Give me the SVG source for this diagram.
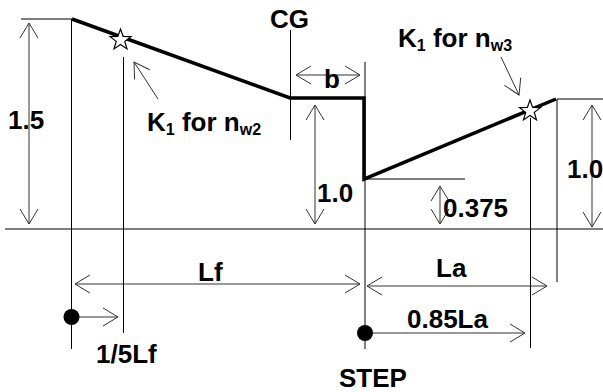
<svg xmlns="http://www.w3.org/2000/svg" width="603" height="392" viewBox="0 0 603 392">
<style>
.t{font-family:"Liberation Sans",Arial,sans-serif;font-weight:bold;font-size:26px;fill:#000}
.s{font-size:16px}
.thin{stroke:#000;stroke-width:1;fill:none}
.dim{stroke:#333;stroke-width:1;fill:none;marker-end:url(#ah)}
.dim2{stroke:#333;stroke-width:1;fill:none;marker-start:url(#ah);marker-end:url(#ah)}
.thick{stroke:#000;stroke-width:3.5;fill:none;stroke-linejoin:miter}
.star{fill:#fff;stroke:#000;stroke-width:1.2}
</style>
<defs>
<marker id="ah" markerUnits="userSpaceOnUse" markerWidth="20" markerHeight="20" refX="0" refY="0" orient="auto-start-reverse" viewBox="-16 -10 18 20" overflow="visible">
<path d="M-15,-9 L0,0 L-15,9" fill="none" stroke="#333" stroke-width="1"/>
</marker>
<polygon id="star" points="0,-11 2.65,-3.64 10.46,-3.4 4.28,1.39 6.47,8.9 0,4.5 -6.47,8.9 -4.28,1.39 -10.46,-3.4 -2.65,-3.64"/>
</defs>

<g id="reference-lines">
<line class="thin" x1="5" y1="229" x2="603" y2="229"/>
<line class="thin" x1="21" y1="19" x2="72" y2="19"/>
<line class="thin" x1="71.5" y1="19" x2="71.5" y2="349"/>
<line class="thin" x1="123.5" y1="57" x2="123.5" y2="333"/>
<line class="thin" x1="290.5" y1="30" x2="290.5" y2="140"/>
<line class="thin" x1="365" y1="62" x2="365" y2="349"/>
<line class="thin" x1="365" y1="179" x2="465" y2="179"/>
<line class="thin" x1="530.5" y1="118" x2="530.5" y2="348"/>
<line class="thin" x1="557" y1="99" x2="603" y2="99"/>
<line class="thin" x1="557" y1="99" x2="557" y2="282"/>
</g>

<g id="profile">
<polyline class="thick" points="72,19 290,98 364,98 364,179 556,99"/>
<use href="#star" class="star" x="120.5" y="40"/>
<use href="#star" class="star" x="530" y="111"/>
</g>

<g id="connectors">
<line class="dim2" x1="29" y1="23" x2="29" y2="224"/>
<line class="dim" x1="158" y1="99" x2="134" y2="62"/>
<line class="dim" x1="501" y1="57" x2="519" y2="95"/>
<line class="dim2" x1="296" y1="75" x2="360" y2="75"/>
<line class="dim2" x1="315" y1="105" x2="315" y2="224"/>
<line class="dim2" x1="440" y1="186" x2="440" y2="224"/>
<line class="dim2" x1="592" y1="105" x2="592" y2="227"/>
<line class="dim2" x1="75" y1="284" x2="360" y2="284"/>
<line class="dim2" x1="367" y1="286" x2="547" y2="286"/>
<line class="dim" x1="72" y1="317" x2="118" y2="317"/>
<line class="dim" x1="365" y1="333" x2="525" y2="333"/>
<circle cx="71.5" cy="317" r="8" fill="#000"/>
<circle cx="365" cy="333" r="8" fill="#000"/>
</g>

<g id="labels">
<text class="t" x="8" y="129">1.5</text>
<text class="t" x="147" y="131">K<tspan class="s" dy="4">1</tspan><tspan dy="-4"> for n</tspan><tspan class="s" dy="4">w2</tspan></text>
<text class="t" x="270" y="28">CG</text>
<text class="t" x="324" y="88">b</text>
<text class="t" x="398" y="47">K<tspan class="s" dy="4">1</tspan><tspan dy="-4"> for n</tspan><tspan class="s" dy="4">w3</tspan></text>
<text class="t" x="317" y="202">1.0</text>
<text class="t" x="443" y="217">0.375</text>
<text class="t" x="567" y="178">1.0</text>
<text class="t" x="198" y="281">Lf</text>
<text class="t" x="436" y="277">La</text>
<text class="t" x="407" y="328">0.85La</text>
<text class="t" x="96" y="363">1/5Lf</text>
<text class="t" x="339" y="387">STEP</text>
</g>
</svg>
